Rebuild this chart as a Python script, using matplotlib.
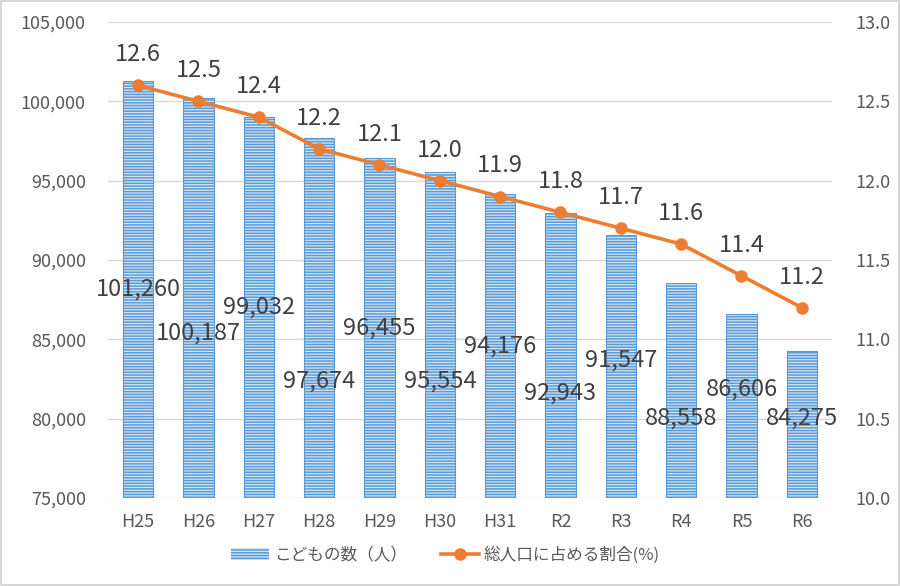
import matplotlib
matplotlib.use("Agg")
import matplotlib.pyplot as plt
from matplotlib.patches import Patch, Rectangle
from matplotlib.lines import Line2D

plt.rcParams['font.family'] = ['Noto Sans CJK JP', 'DejaVu Sans']
plt.rcParams['hatch.linewidth'] = 0.9

categories = ["H25", "H26", "H27", "H28", "H29", "H30", "H31", "R2", "R3", "R4", "R5", "R6"]
children = [101260, 100187, 99032, 97674, 96455, 95554, 94176, 92943, 91547, 88558, 86606, 84275]
ratio = [12.6, 12.5, 12.4, 12.2, 12.1, 12.0, 11.9, 11.8, 11.7, 11.6, 11.4, 11.2]
# label anchor heights (left axis units) as placed in the original
label_y = [88170, 85400, 87040, 82370, 85710, 82370, 84580, 81620, 83700, 80040, 81870, 80040]

blue = '#5b9bd5'
stripe = '#d2e4f5'
orange = '#ed7d31'
gray = '#595959'

fig = plt.figure(figsize=(9, 5.86), dpi=100)
ax = fig.add_axes([0.12, 0.1502, 0.8044, 0.8123])
ax2 = ax.twinx()

x = list(range(len(categories)))
ax.bar(x, children, width=0.5, color=blue, edgecolor=stripe, linewidth=0, hatch='------', zorder=2)
ax.bar(x, children, width=0.5, fill=False, edgecolor=blue, linewidth=0.8, zorder=3)

ax.set_ylim(75000, 105000)
ax.set_xlim(-0.5, len(categories) - 0.5)
ax.set_yticks(range(75000, 105001, 5000))
ax.set_yticklabels([f"{v:,}" for v in range(75000, 105001, 5000)])
ax.set_xticks(x)
ax.set_xticklabels(categories)
ax.grid(axis='y', color='#d9d9d9', linewidth=1, zorder=0)
ax.set_axisbelow(True)
for s in ax.spines.values():
    s.set_visible(False)
for s in ax2.spines.values():
    s.set_visible(False)
ax.tick_params(axis='both', length=0, colors=gray, labelsize=13)
ax.tick_params(axis='y', pad=16)
ax.tick_params(axis='x', pad=11)

for xi, v, ly in zip(x, children, label_y):
    ax.text(xi, ly, f"{v:,}", ha='center', va='center', fontsize=17, color='#404040', zorder=5)

ax2.plot(x, ratio, color=orange, linewidth=2.6, marker='o', markersize=8, zorder=4)
ax2.set_ylim(10.0, 13.0)
ax2.set_yticks([10.0, 10.5, 11.0, 11.5, 12.0, 12.5, 13.0])
ax2.set_yticklabels([f"{v:.1f}" for v in [10.0, 10.5, 11.0, 11.5, 12.0, 12.5, 13.0]])
ax2.tick_params(axis='y', length=0, colors=gray, labelsize=13, pad=17)
for xi, r in zip(x, ratio):
    ax2.annotate(f"{r:.1f}", (xi, r), xytext=(0, 22), textcoords='offset points',
                 ha='center', va='center', fontsize=17, color='#404040')
ax2.set_zorder(ax.get_zorder() + 1)
ax2.patch.set_visible(False)

handles = [Patch(facecolor=blue, edgecolor=stripe, linewidth=0, hatch='------'),
           Line2D([0], [0], color=orange, linewidth=2.6, marker='o', markersize=8)]
fig.legend(handles, ["こどもの数（人）", "総人口に占める割合(%)"], loc='center',
           bbox_to_anchor=(0.495, 0.053), ncol=2, frameon=False, fontsize=12,
           labelcolor=gray, handlelength=2.3, columnspacing=2.0, handletextpad=0.3)

fig.patches.append(Rectangle((0.001, 0.001), 0.998, 0.998, transform=fig.transFigure,
                             fill=False, edgecolor='#d0d0d0', linewidth=1.2))

fig.savefig("out.png", dpi=100)
